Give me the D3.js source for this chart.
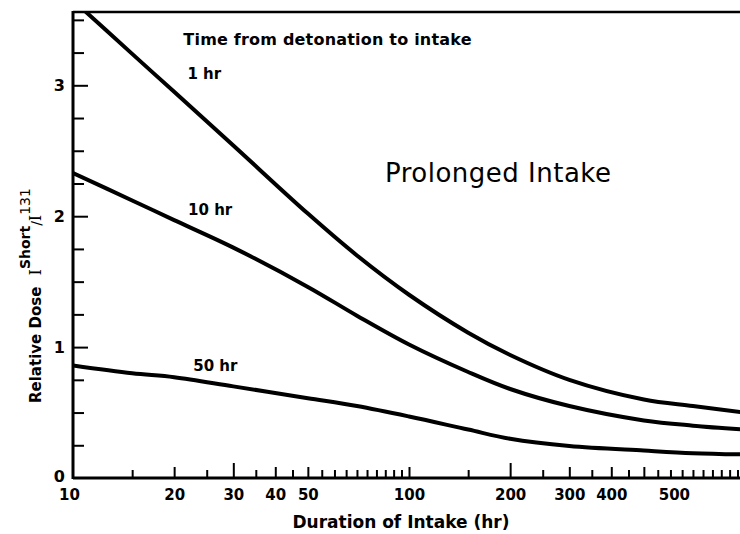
<!DOCTYPE html>
<html>
<head>
<meta charset="utf-8">
<script src="https://cdn.jsdelivr.net/npm/d3@7"></script>
<style>
  html, body { margin: 0; padding: 0; background: #fff; }
  svg { display: block; }
  text { font-family: "DejaVu Sans", sans-serif; fill: #000; }
</style>
</head>
<body>
<svg id="chart" width="740" height="534"></svg>
<script>
  'use strict';

  // duration of intake (hr)
  var durations = [10, 15, 20, 30, 50, 70, 100, 150, 200, 300, 500, 700, 1000];
  // relative dose, one list per time from detonation to intake
  var dose1hr  = [3.65, 3.24, 2.95, 2.54, 2.02, 1.70, 1.40, 1.11, 0.94, 0.75, 0.60, 0.55, 0.50];
  var dose10hr = [2.33, 2.12, 1.97, 1.76, 1.46, 1.24, 1.02, 0.81, 0.68, 0.55, 0.44, 0.40, 0.37];
  var dose50hr = [0.86, 0.80, 0.77, 0.70, 0.61, 0.55, 0.47, 0.37, 0.30, 0.245, 0.21, 0.19, 0.18];

  var xTickValues = [10, 20, 30, 40, 50, 100, 200, 300, 400, 500];
  var yTickValues = [0, 1, 2, 3];

  var svg = d3.select('#chart');

  var plotLeft = 73, plotRight = 745, plotTop = 12, plotBottom = 478;

  var x = d3.scaleLog().domain([10, 1000]).range([plotLeft, plotRight]);
  var y = d3.scaleLinear().domain([0, 3.56]).range([plotBottom, plotTop]);

  svg.append('clipPath').attr('id', 'plot-clip')
    .append('rect')
    .attr('x', plotLeft).attr('y', plotTop)
    .attr('width', plotRight - plotLeft).attr('height', plotBottom - plotTop);

  // minor x ticks, pointing up into the plot
  var xMinor = d3.range(15, 101, 5).concat(d3.range(150, 1000, 50))
    .filter(function(v) { return xTickValues.indexOf(v) < 0; });

  svg.append('g')
    .attr('transform', `translate(0,${plotBottom})`)
    .call(d3.axisBottom(x).tickValues(xMinor).tickSize(-8).tickFormat(''))
    .call(function(g) { g.select('.domain').remove(); })
    .selectAll('line').attr('stroke', '#000').attr('stroke-width', 2);

  var xAxis = svg.append('g')
    .attr('transform', `translate(0,${plotBottom})`)
    .call(d3.axisBottom(x).tickValues(xTickValues).tickSizeInner(-11).tickSizeOuter(0)
      .tickFormat(d3.format('d')));
  xAxis.select('.domain').remove();
  xAxis.selectAll('line').attr('stroke', '#000').attr('stroke-width', 2)
    .filter(function(d) { return d === 30 || d === 200; }).attr('y2', -15);
  xAxis.selectAll('line').filter(function(d) { return d === 10; }).remove();
  xAxis.selectAll('text')
    .attr('y', 11)
    .attr('dy', '0.71em')
    .attr('dx', function(d) { return d === 500 ? 30 : (d === 10 ? -4 : 0); })
    .style('font-size', '15px')
    .style('font-weight', 'bold')
    .style('font-family', '"DejaVu Sans", sans-serif');

  // y axis, ticks every 0.25 pointing right
  var yMinor = d3.range(0.25, 3.56, 0.25).filter(function(v) { return v % 1 !== 0; });
  svg.append('g')
    .attr('transform', `translate(${plotLeft},0)`)
    .call(d3.axisRight(y).tickValues(yMinor).tickSize(11).tickFormat(''))
    .call(function(g) { g.select('.domain').remove(); })
    .selectAll('line').attr('stroke', '#000').attr('stroke-width', 2);

  var yAxis = svg.append('g')
    .attr('transform', `translate(${plotLeft},0)`)
    .call(d3.axisLeft(y).tickValues(yTickValues).tickSizeInner(-15).tickSizeOuter(0)
      .tickFormat(d3.format('d')));
  yAxis.select('.domain').remove();
  yAxis.selectAll('line').attr('stroke', '#000').attr('stroke-width', 2);
  yAxis.selectAll('line').filter(function(d) { return d === 0; }).remove();
  yAxis.selectAll('text')
    .attr('x', -8)
    .attr('dy', function(d) { return d === 0 ? '0.2em' : '0.32em'; })
    .style('font-size', '16px')
    .style('font-weight', 'bold')
    .style('font-family', '"DejaVu Sans", sans-serif');

  // frame: left, bottom, top
  var frame = svg.append('g').attr('stroke', '#000').attr('fill', 'none');
  frame.append('line').attr('x1', plotLeft).attr('x2', plotLeft)
    .attr('y1', plotTop - 1).attr('y2', plotBottom + 1)
    .attr('stroke-width', 3);
  frame.append('line').attr('x1', plotLeft).attr('x2', 740)
    .attr('y1', plotBottom).attr('y2', plotBottom)
    .attr('stroke-width', 3);
  frame.append('line').attr('x1', plotLeft).attr('x2', 740)
    .attr('y1', plotTop).attr('y2', plotTop)
    .attr('stroke-width', 2.5);

  // curves
  var series = [dose1hr, dose10hr, dose50hr];
  var line = d3.line()
    .x(function(d, i) { return x(durations[i]); })
    .y(function(d) { return y(d); })
    .curve(d3.curveCatmullRom.alpha(0.5));

  svg.append('g').attr('clip-path', 'url(#plot-clip)')
    .selectAll('path')
    .data(series)
    .enter().append('path')
    .attr('d', line)
    .attr('fill', 'none')
    .attr('stroke', '#000')
    .attr('stroke-width', 4)
    .attr('stroke-linejoin', 'round');

  // annotations, placed in data coordinates
  var notes = [
    { text: 'Time from detonation to intake', d: 21.3, v: 3.31, size: 16, weight: 'bold', spacing: 0.2 },
    { text: '1 hr', d: 21.9, v: 3.05, size: 15, weight: 'bold', spacing: 0 },
    { text: '10 hr', d: 22.0, v: 2.01, size: 15, weight: 'bold', spacing: 0 },
    { text: '50 hr', d: 22.8, v: 0.82, size: 15, weight: 'bold', spacing: 0 },
    { text: 'Prolonged Intake', d: 84.8, v: 2.26, size: 26, weight: 'normal', spacing: 0.5 }
  ];

  svg.append('g').selectAll('text')
    .data(notes)
    .enter().append('text')
    .attr('x', function(d) { return x(d.d); })
    .attr('y', function(d) { return y(d.v); })
    .style('font-size', function(d) { return d.size + 'px'; })
    .style('font-weight', function(d) { return d.weight; })
    .style('letter-spacing', function(d) { return d.spacing + 'px'; })
    .text(function(d) { return d.text; });

  // axis titles
  svg.append('text')
    .attr('x', 401)
    .attr('y', 528)
    .style('text-anchor', 'middle')
    .style('font-size', '17px')
    .style('font-weight', 'bold')
    .text('Duration of Intake (hr)');

  var yTitle = svg.append('text')
    .attr('transform', 'translate(41, 403) rotate(-90)')
    .style('text-anchor', 'start')
    .style('font-size', '15px')
    .style('font-weight', 'bold');
  yTitle.append('tspan').text('Relative Dose ');
  yTitle.append('tspan').attr('dx', 6)
    .style('font-family', '"DejaVu Serif", serif').style('font-weight', 'normal').style('font-size', '16px')
    .text('I');
  yTitle.append('tspan').attr('dy', -11).style('font-size', '14px').text('Short');
  yTitle.append('tspan').attr('dy', 11).style('font-size', '14px').style('font-weight', 'normal').text('/');
  yTitle.append('tspan')
    .style('font-family', '"DejaVu Serif", serif').style('font-weight', 'normal').style('font-size', '16px')
    .text('I');
  yTitle.append('tspan').attr('dy', -11).style('font-size', '14px').style('font-weight', 'normal').text('131');
</script>
</body>
</html>
